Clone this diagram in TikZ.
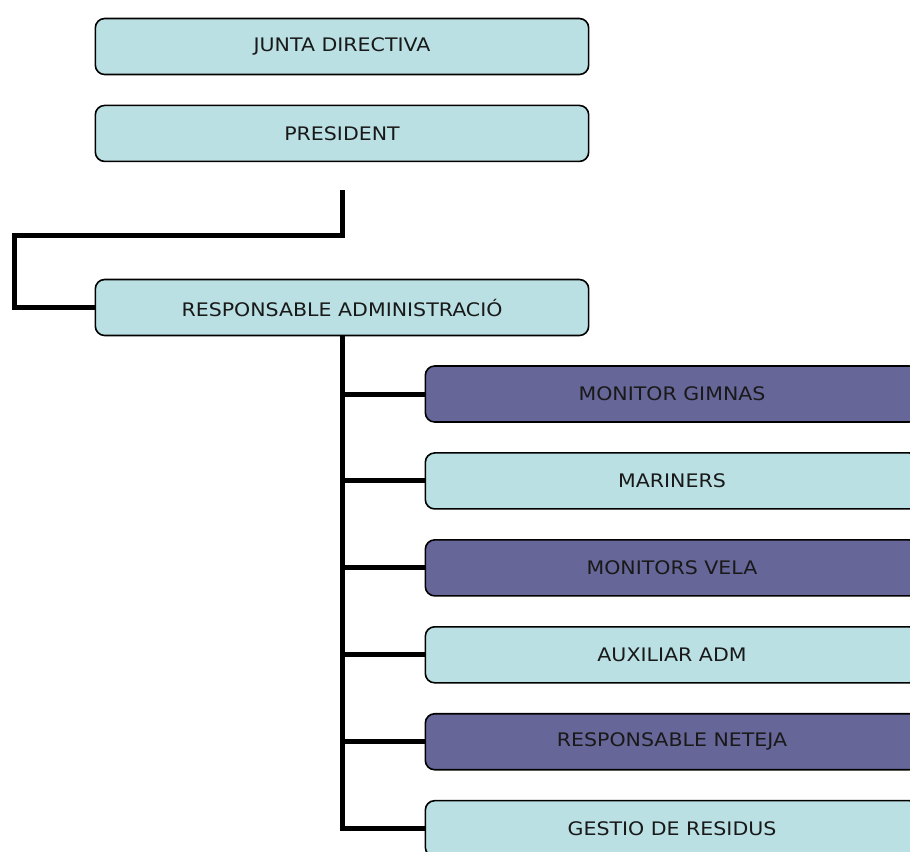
\documentclass[tikz,border=0pt]{standalone}
\usepackage{fontspec}
\setmainfont{DejaVu Sans}[FakeStretch=1.1]
\usetikzlibrary{positioning}

\definecolor{celeste}{HTML}{BAE0E3}
\definecolor{lila}{HTML}{666699}

\begin{document}
\begin{tikzpicture}[
    x=0.75pt, y=-0.75pt,
    node distance=22pt,
    carrec/.style={draw=black, line width=1.2pt, rounded corners=7pt,
        minimum width=370pt, minimum height=42pt, inner sep=0pt,
        font=\fontsize{14}{16}\selectfont, text=black!90},
    clar/.style={carrec, fill=celeste},
    fosc/.style={carrec, fill=lila},
    enllac/.style={line width=3.75pt},
  ]

  \useasboundingbox (0,0) rectangle (910,851);
  \clip (0,0) rectangle (910,851);

  \node [clar] (junta) at (342, 46.5) {JUNTA DIRECTIVA};
  \node [clar, below=of junta] (president) {PRESIDENT};
  \coordinate [below=21pt of president] (tall);
  \node [clar] (admin) at (342, 307.5) {RESPONSABLE ADMINISTRACIÓ};
  \coordinate (gir) at (14, 235.5);

  \node [fosc] (gimnas) at (672, 394) {MONITOR GIMNAS};
  \node [clar, below=of gimnas] (mariners) {MARINERS};
  \node [fosc, below=of mariners] (vela) {MONITORS VELA};
  \node [clar, below=of vela] (auxiliar) {AUXILIAR ADM};
  \node [fosc, below=of auxiliar] (neteja) {RESPONSABLE NETEJA};
  \node [clar, below=of neteja] (residus) {GESTIO DE RESIDUS};

  \draw [enllac] (tall) |- (gir) |- (admin.west);
  \foreach \fill in {gimnas, mariners, vela, auxiliar, neteja, residus}
    \draw [enllac] (admin.south) |- (\fill.west);

\end{tikzpicture}
\end{document}
